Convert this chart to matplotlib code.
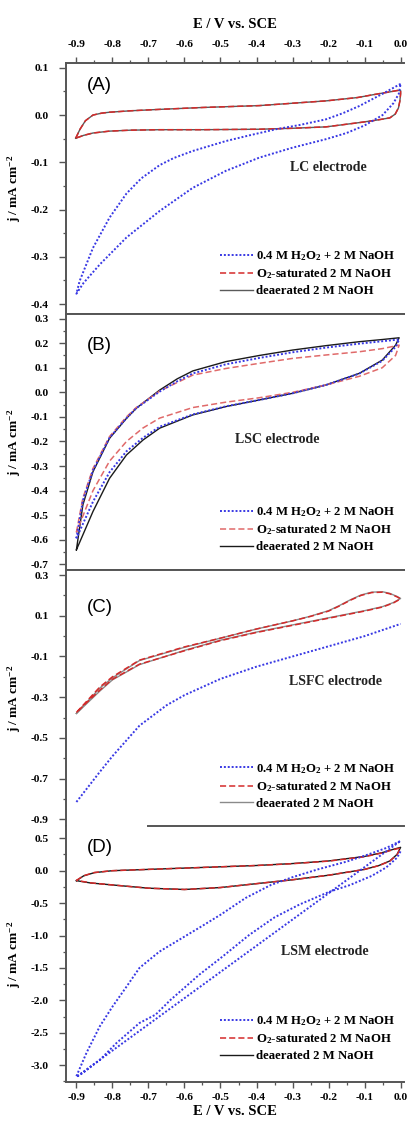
import matplotlib
matplotlib.use("Agg")
import matplotlib.pyplot as plt
from matplotlib.ticker import MultipleLocator

plt.rcParams['font.family'] = ['Liberation Serif', 'DejaVu Serif']
plt.rcParams['font.weight'] = 'bold'
plt.rcParams['axes.labelweight'] = 'bold'
plt.rcParams['mathtext.fontset'] = 'custom'
plt.rcParams['mathtext.rm'] = 'Liberation Serif:bold'
plt.rcParams['mathtext.it'] = 'Liberation Serif:italic:bold'
plt.rcParams['mathtext.bf'] = 'Liberation Serif:bold'

# ---------------- data ----------------
series_labels = ["0.4 M H$_2$O$_2$ + 2 M NaOH", "O$_2$-saturated 2 M NaOH", "deaerated 2 M NaOH"]
panel_tags = ["(A)", "(B)", "(C)", "(D)"]
electrodes = ["LC electrode", "LSC electrode", "LSFC electrode", "LSM electrode"]
x_ticks = [-0.9, -0.8, -0.7, -0.6, -0.5, -0.4, -0.3, -0.2, -0.1, 0.0]

# Panel A (LC)
A_blk_up_E = [-0.902, -0.89, -0.875, -0.854, -0.83, -0.808, -0.75, -0.669, -0.55, -0.392, -0.30, -0.207, -0.12, -0.069, -0.03, -0.009, 0.0]
A_blk_up_j = [-0.049, -0.030, -0.012, 0.0, 0.004, 0.006, 0.009, 0.012, 0.016, 0.020, 0.025, 0.030, 0.037, 0.044, 0.049, 0.052, 0.052]
A_blk_dn_E = [0.0, -0.002, -0.006, -0.015, -0.03, -0.069, -0.115, -0.207, -0.30, -0.392, -0.55, -0.669, -0.75, -0.808, -0.854, -0.88, -0.902]
A_blk_dn_j = [0.045, 0.030, 0.015, 0.002, -0.006, -0.011, -0.016, -0.025, -0.028, -0.030, -0.031, -0.031, -0.032, -0.034, -0.038, -0.043, -0.049]
A_red_up_j = [-0.049, -0.030, -0.012, 0.0, 0.004, 0.006, 0.009, 0.012, 0.016, 0.020, 0.025, 0.030, 0.037, 0.044, 0.049, 0.052, 0.052]
A_red_dn_j = [0.045, 0.030, 0.015, 0.002, -0.006, -0.011, -0.016, -0.025, -0.028, -0.030, -0.031, -0.031, -0.032, -0.034, -0.038, -0.043, -0.049]
A_blu_up_E = [0.0, -0.05, -0.115, -0.16, -0.207, -0.28, -0.346, -0.42, -0.485, -0.577, -0.63, -0.669, -0.72, -0.761, -0.808, -0.854, -0.891, -0.9]
A_blu_up_j = [0.066, 0.045, 0.019, 0.004, -0.009, -0.021, -0.030, -0.043, -0.055, -0.076, -0.091, -0.106, -0.134, -0.166, -0.217, -0.281, -0.351, -0.378]
A_blu_dn_E = [-0.9, -0.88, -0.835, -0.761, -0.669, -0.577, -0.485, -0.392, -0.30, -0.207, -0.15, -0.10, -0.05, -0.02, -0.005, 0.0]
A_blu_dn_j = [-0.378, -0.355, -0.316, -0.259, -0.203, -0.154, -0.118, -0.090, -0.069, -0.051, -0.038, -0.022, 0.0, 0.025, 0.045, 0.066]

# Panel B (LSC)
B_up_E = [-0.9, -0.882, -0.854, -0.808, -0.761, -0.734, -0.669, -0.62, -0.577, -0.485, -0.392, -0.30, -0.207, -0.115, -0.05, -0.004]
B_blk_up_j = [-0.641, -0.458, -0.323, -0.187, -0.106, -0.065, 0.009, 0.055, 0.087, 0.125, 0.150, 0.172, 0.190, 0.206, 0.215, 0.222]
B_blu_up_j = [-0.594, -0.440, -0.318, -0.185, -0.105, -0.065, 0.003, 0.045, 0.077, 0.114, 0.140, 0.163, 0.182, 0.198, 0.208, 0.215]
B_red_up_j = [-0.570, -0.430, -0.310, -0.180, -0.100, -0.062, 0.005, 0.040, 0.070, 0.097, 0.118, 0.138, 0.152, 0.165, 0.178, 0.192]
B_dn_E = [-0.004, -0.014, -0.051, -0.115, -0.207, -0.30, -0.392, -0.485, -0.577, -0.669, -0.715, -0.761, -0.808, -0.854, -0.9]
B_blk_dn_j = [0.222, 0.192, 0.131, 0.077, 0.030, -0.004, -0.031, -0.058, -0.092, -0.146, -0.194, -0.255, -0.350, -0.485, -0.641]
B_blu_dn_j = [0.215, 0.185, 0.128, 0.076, 0.030, -0.004, -0.031, -0.057, -0.090, -0.140, -0.185, -0.240, -0.325, -0.445, -0.594]
B_red_dn_j = [0.192, 0.150, 0.100, 0.065, 0.030, 0.0, -0.022, -0.040, -0.062, -0.105, -0.145, -0.200, -0.280, -0.400, -0.570]

# Panel C (LSFC)
C_up_E = [-0.9, -0.835, -0.8, -0.725, -0.6, -0.5, -0.4, -0.3, -0.25, -0.2, -0.17, -0.14, -0.11, -0.08, -0.05, -0.03, -0.01, 0.0]
C_blk_up_j = [-0.380, -0.255, -0.205, -0.120, -0.055, -0.010, 0.035, 0.075, 0.098, 0.125, 0.150, 0.178, 0.202, 0.216, 0.218, 0.210, 0.195, 0.185]
C_red_up_j = [-0.375, -0.250, -0.200, -0.118, -0.053, -0.010, 0.035, 0.075, 0.097, 0.123, 0.148, 0.176, 0.200, 0.214, 0.216, 0.208, 0.193, 0.183]
C_dn_E = [0.0, -0.02, -0.05, -0.1, -0.2, -0.3, -0.4, -0.5, -0.6, -0.725, -0.8, -0.835, -0.9]
C_blk_dn_j = [0.185, 0.165, 0.145, 0.125, 0.090, 0.055, 0.020, -0.020, -0.070, -0.140, -0.215, -0.270, -0.380]
C_red_dn_j = [0.183, 0.163, 0.143, 0.123, 0.088, 0.053, 0.018, -0.022, -0.072, -0.138, -0.212, -0.265, -0.375]
C_blu_E = [-0.9, -0.835, -0.8, -0.76, -0.725, -0.65, -0.6, -0.5, -0.4, -0.3, -0.2, -0.1, 0.0]
C_blu_j = [-0.815, -0.667, -0.590, -0.510, -0.440, -0.340, -0.290, -0.210, -0.150, -0.100, -0.050, 0.000, 0.060]

# Panel D (LSM)
D_up_E = [-0.9, -0.88, -0.85, -0.8, -0.7, -0.6, -0.5, -0.4, -0.3, -0.2, -0.1, -0.05, -0.02, 0.0]
D_blk_up_j = [-0.154, -0.080, -0.030, 0.0, 0.020, 0.040, 0.060, 0.080, 0.110, 0.150, 0.220, 0.280, 0.330, 0.360]
D_dn_E = [0.0, -0.01, -0.03, -0.06, -0.1, -0.2, -0.3, -0.4, -0.5, -0.6, -0.7, -0.8, -0.86, -0.9]
D_blk_dn_j = [0.360, 0.250, 0.150, 0.080, 0.020, -0.070, -0.140, -0.200, -0.260, -0.290, -0.270, -0.220, -0.190, -0.154]
D_red_up_j = [-0.150, -0.078, -0.028, 0.0, 0.020, 0.040, 0.060, 0.080, 0.108, 0.148, 0.215, 0.275, 0.325, 0.350]
D_red_dn_j = [0.350, 0.245, 0.148, 0.078, 0.020, -0.070, -0.140, -0.200, -0.260, -0.290, -0.270, -0.220, -0.188, -0.150]
D_blu_up_E = [-0.9, -0.872, -0.835, -0.799, -0.761, -0.725, -0.67, -0.613, -0.55, -0.5, -0.43, -0.36, -0.3, -0.23, -0.15, -0.09, -0.04, 0.0]
D_blu_up_j = [-3.17, -2.81, -2.40, -2.09, -1.79, -1.50, -1.25, -1.06, -0.85, -0.68, -0.42, -0.22, -0.10, 0.02, 0.14, 0.25, 0.35, 0.46]
D_blu_dn_E = [-0.9, -0.882, -0.835, -0.789, -0.725, -0.68, -0.64, -0.558, -0.5, -0.42, -0.35, -0.28, -0.2, -0.14, -0.08, -0.04, -0.01, 0.0]
D_blu_dn_j = [-3.18, -3.12, -2.92, -2.66, -2.35, -2.22, -2.00, -1.60, -1.35, -0.99, -0.72, -0.52, -0.33, -0.22, -0.08, 0.05, 0.20, 0.30]

# ---------------- styles ----------------
BLUE = '#3838e4'
RED = '#d42a2a'
dot = (0, (1, 1))
dash = (0, (4, 2))

fig = plt.figure(figsize=(4.10, 11.22), dpi=100)
L, W = 0.160, 0.825
rects = [(L, 0.7201, W, 0.2237), (L, 0.4920, W, 0.2282), (L, 0.2638, W, 0.2282), (L, 0.03565, W, 0.2282)]
ylims = [(-0.421, 0.11), (-0.723, 0.319), (-0.933, 0.325), (-3.26, 0.69)]
ymin_ = [0.05, 0.05, 0.1, 0.25]
yticks_list = [[-0.4, -0.3, -0.2, -0.1, 0.0, 0.1],
               [-0.7, -0.6, -0.5, -0.4, -0.3, -0.2, -0.1, 0.0, 0.1, 0.2, 0.3],
               [-0.9, -0.7, -0.5, -0.3, -0.1, 0.1, 0.3],
               [-3.0, -2.5, -2.0, -1.5, -1.0, -0.5, 0.0, 0.5]]
tag_y = [0.912, 0.875, 0.852, 0.914]
elec_xy = [(0.776, 0.582), (0.627, 0.508), (0.797, 0.566), (0.767, 0.508)]
leg_y = [0.068, 0.066, 0.064, 0.078]
blk_colors = ['#5a5a5a', '#1a1a1a', '#8a8a8a', '#1a1a1a']
red_colors = [RED, '#e06a6a', RED, RED]
SP = '#555555'
XLIM = (-0.93, 0.009)

axes = []
for i, r in enumerate(rects):
    ax = fig.add_axes(r)
    axes.append(ax)
    ax.set_xlim(*XLIM)
    ax.set_ylim(*ylims[i])
    ax.spines['right'].set_visible(False)
    for s in ['left', 'top', 'bottom']:
        ax.spines[s].set_color(SP)
        ax.spines[s].set_linewidth(1.4)
    ax.set_yticks(yticks_list[i])
    ax.set_yticklabels([f"{v:.1f}" for v in yticks_list[i]])
    ax.yaxis.set_minor_locator(MultipleLocator(ymin_[i]))
    ax.tick_params(axis='y', which='major', direction='out', length=5, width=1.0, color=SP, labelsize=8.2, pad=7)
    ax.tick_params(axis='y', which='minor', direction='out', length=2.5, width=0.9, color=SP)
    ax.set_xticks(x_ticks)
    ax.set_xticklabels([f"{v:.1f}" for v in x_ticks])
    ax.xaxis.set_minor_locator(MultipleLocator(0.05))
    if i == 0:
        ax.tick_params(axis='x', which='both', top=True, bottom=False, labeltop=True, labelbottom=False)
        ax.xaxis.set_label_position('top')
        ax.set_xlabel("E / V vs. SCE", fontsize=10.5, labelpad=9)
        ax.tick_params(axis='x', which='major', pad=6)
    elif i == 3:
        ax.tick_params(axis='x', which='both', top=False, bottom=True, labeltop=False, labelbottom=True)
        ax.set_xlabel("E / V vs. SCE", fontsize=10.5, labelpad=2)
        ax.tick_params(axis='x', which='major', pad=4)
    else:
        ax.tick_params(axis='x', which='both', top=False, bottom=False, labeltop=False, labelbottom=False)
    ax.tick_params(axis='x', which='major', direction='out', length=4, width=1.0, color=SP, labelsize=8.2)
    ax.tick_params(axis='x', which='minor', direction='out', length=2.2, width=0.9, color=SP)
    ax.set_ylabel("j / mA cm$^{-2}$", fontsize=9.5)
    ax.yaxis.set_label_coords(-0.125, 0.5)
    ax.text(0.063, tag_y[i], panel_tags[i], transform=ax.transAxes, fontsize=13.5,
            family='Liberation Sans', fontweight='normal', va='center', ha='left')
    ax.text(elec_xy[i][0], elec_xy[i][1], electrodes[i], transform=ax.transAxes, fontsize=10,
            ha='center', va='center', color='#222222')

# separator between C and D is only partly drawn in the original
axes[2].spines['bottom'].set_visible(False)
axes[3].spines['top'].set_bounds(-0.70, XLIM[1])

lw_b, lw_r, lw_k = 1.4, 1.1, 1.0

# A
ax = axes[0]
kA, = ax.plot(A_blk_up_E + A_blk_dn_E, A_blk_up_j + A_blk_dn_j, color=blk_colors[0], lw=lw_k, label=series_labels[2])
rA, = ax.plot(A_blk_up_E + A_blk_dn_E, A_red_up_j + A_red_dn_j, color=red_colors[0], lw=lw_r, ls=dash, label=series_labels[1])
bA, = ax.plot(A_blu_up_E + A_blu_dn_E, A_blu_up_j + A_blu_dn_j, color=BLUE, lw=lw_b, ls=dot, label=series_labels[0])

# B
ax = axes[1]
kB, = ax.plot(B_up_E + B_dn_E, B_blk_up_j + B_blk_dn_j, color=blk_colors[1], lw=lw_k, label=series_labels[2])
rB, = ax.plot(B_up_E + B_dn_E, B_red_up_j + B_red_dn_j, color=red_colors[1], lw=lw_r, ls=dash, label=series_labels[1])
bB, = ax.plot(B_up_E + B_dn_E, B_blu_up_j + B_blu_dn_j, color=BLUE, lw=lw_b, ls=dot, label=series_labels[0])

# C
ax = axes[2]
kC, = ax.plot(C_up_E + C_dn_E, C_blk_up_j + C_blk_dn_j, color=blk_colors[2], lw=lw_k, label=series_labels[2])
rC, = ax.plot(C_up_E + C_dn_E, C_red_up_j + C_red_dn_j, color=red_colors[2], lw=lw_r, ls=dash, label=series_labels[1])
bC, = ax.plot(C_blu_E, C_blu_j, color=BLUE, lw=lw_b, ls=dot, label=series_labels[0])

# D
ax = axes[3]
kD, = ax.plot(D_up_E + D_dn_E, D_blk_up_j + D_blk_dn_j, color=blk_colors[3], lw=lw_k, label=series_labels[2])
rD, = ax.plot(D_up_E + D_dn_E, D_red_up_j + D_red_dn_j, color=red_colors[3], lw=lw_r, ls=dash, label=series_labels[1])
bD, = ax.plot(D_blu_up_E + D_blu_dn_E, D_blu_up_j + D_blu_dn_j, color=BLUE, lw=lw_b, ls=dot, label=series_labels[0])

handles = [(bA, rA, kA), (bB, rB, kB), (bC, rC, kC), (bD, rD, kD)]
for i, ax in enumerate(axes):
    hs = list(handles[i])
    ax.legend(hs, [h.get_label() for h in hs], loc='lower right', bbox_to_anchor=(0.975, leg_y[i]),
              frameon=False, fontsize=9.2, handlelength=2.6, handletextpad=0.2,
              labelspacing=0.28, borderaxespad=0.0, borderpad=0.0)

fig.savefig("out.png", dpi=100)
